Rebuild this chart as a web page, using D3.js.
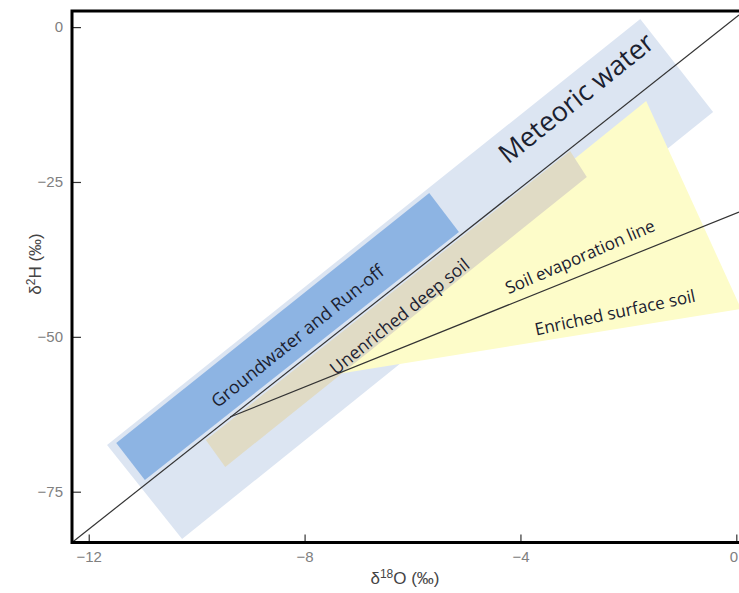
<!DOCTYPE html>
<html>
<head>
<meta charset="utf-8">
<script src="https://cdn.jsdelivr.net/npm/d3@7"></script>
<style>
  body { margin: 0; background: #fff; }
  svg { display: block; }
</style>
</head>
<body>
<div id="chart"></div>
<script>
// axis ticks
const xTicks = [-12, -8, -4, 0];
const yTicks = [0, -25, -50, -75];
const xDomain = [-12.31, 0.05];
const yDomain = [-83.2, 2.6];

// zones, as [d18O, d2H] corners
const meteoricZone = [[-11.66, -67.46], [-10.27, -82.63], [-0.43, -13.70], [-1.78, 1.31]];
const enrichedZone = [[-8.08, -56.96], [-1.67, -11.93], [0.09, -45.50]];
const deepSoilZone = [[-9.83, -66.65], [-9.47, -71.01], [-2.77, -24.20], [-3.08, -20.00]];
const groundwaterZone = [[-11.49, -67.13], [-10.96, -73.11], [-5.14, -33.07], [-5.69, -26.78]];

// lines (end points)
const meteoricLine = [[-12.31, -83.2], [0.05, 1.95]];
const evaporationLine = [[-9.38, -62.94], [0.05, -29.85]];

// labels: text, anchor point [d18O, d2H], angle
const zoneLabels = [
    { text: 'Meteoric water', at: [-2.98, -11.3], angle: -38.8, size: 27 },
    { text: 'Groundwater and Run-off', at: [-8.14, -49.8], angle: -38.8, size: 18 },
    { text: 'Unenriched deep soil', at: [-6.25, -46.6], angle: -38.8, size: 17.5 },
    { text: 'Soil evaporation line', at: [-2.9, -37.0], angle: -23.5, size: 17 },
    { text: 'Enriched surface soil', at: [-2.25, -46.0], angle: -12, size: 17 }
];

const width = 739;
const height = 593;
const margin = { top: 11, right: 0, bottom: 50.5, left: 72 };

const svg = d3.select('#chart')
    .append('svg')
    .attr('width', width)
    .attr('height', height);

const x = d3.scaleLinear().domain(xDomain).range([margin.left, width - margin.right]);
const y = d3.scaleLinear().domain(yDomain).range([height - margin.bottom, margin.top]);

const line = d3.line().x(d => x(d[0])).y(d => y(d[1]));
const area = d3.line().x(d => x(d[0])).y(d => y(d[1])).curve(d3.curveLinearClosed);

const gZones = svg.append('g').attr('class', 'zones');

gZones.append('path').attr('d', area(meteoricZone)).attr('fill', '#dce5f2');
gZones.append('path').attr('d', area(enrichedZone)).attr('fill', '#fdfcc9');
gZones.append('path').attr('d', area(deepSoilZone)).attr('fill', '#e0dbc5');
gZones.append('path').attr('d', area(groundwaterZone)).attr('fill', '#8db4e3');

svg.append('path')
    .attr('d', line(meteoricLine))
    .attr('fill', 'none')
    .attr('stroke', '#333')
    .attr('stroke-width', 1.2);

svg.append('path')
    .attr('d', line(evaporationLine))
    .attr('fill', 'none')
    .attr('stroke', '#333')
    .attr('stroke-width', 1.2);

// zone labels
svg.append('g').selectAll('text')
    .data(zoneLabels)
    .join('text')
    .attr('transform', d => `translate(${x(d.at[0])},${y(d.at[1])}) rotate(${d.angle})`)
    .attr('text-anchor', 'middle')
    .attr('dominant-baseline', 'central')
    .attr('font-family', '"Open Sans", sans-serif')
    .attr('font-size', d => d.size)
    .attr('fill', '#1b2130')
    .text(d => d.text);

// axes, ticks inward
const xAxis = d3.axisBottom(x).tickValues(xTicks).tickSizeInner(-8).tickSizeOuter(0).tickPadding(9);
const yAxis = d3.axisLeft(y).tickValues(yTicks).tickSizeInner(-9).tickSizeOuter(0).tickPadding(9);

const gx = svg.append('g')
    .attr('transform', `translate(0,${height - margin.bottom})`)
    .call(xAxis);
const gy = svg.append('g')
    .attr('transform', `translate(${margin.left},0)`)
    .call(yAxis);

[gx, gy].forEach(g => {
    g.select('.domain').remove();
    g.selectAll('.tick line').attr('stroke', '#333').attr('stroke-width', 1.2);
    g.selectAll('.tick text')
        .attr('fill', '#808080')
        .attr('font-family', '"Liberation Sans", Arial, sans-serif')
        .attr('font-size', 15);
});
// keep the last x label inside the picture
gx.selectAll('.tick text').filter(d => d === 0).attr('dx', -3);

// frame: left, bottom and top (right side runs off the picture)
const frame = svg.append('g').attr('stroke', '#000').attr('stroke-width', 3).attr('fill', 'none');
frame.append('path')
    .attr('d', `M${width},${margin.top}H${margin.left}V${height - margin.bottom}H${width}`);

// axis titles
const xTitle = svg.append('text')
    .attr('x', 405)
    .attr('y', 584)
    .attr('text-anchor', 'middle')
    .attr('font-family', '"Liberation Sans", Arial, sans-serif')
    .attr('font-size', 17)
    .attr('fill', '#444');
xTitle.append('tspan').text('δ');
xTitle.append('tspan').attr('font-size', 12).attr('dy', -6).text('18');
xTitle.append('tspan').attr('dy', 6).text('O (‰)');

const yTitle = svg.append('text')
    .attr('transform', 'translate(41,264) rotate(-90)')
    .attr('text-anchor', 'middle')
    .attr('font-family', '"Liberation Sans", Arial, sans-serif')
    .attr('font-size', 17)
    .attr('fill', '#444');
yTitle.append('tspan').text('δ');
yTitle.append('tspan').attr('font-size', 12).attr('dy', -6).text('2');
yTitle.append('tspan').attr('dy', 6).text('H (‰)');
</script>
</body>
</html>
